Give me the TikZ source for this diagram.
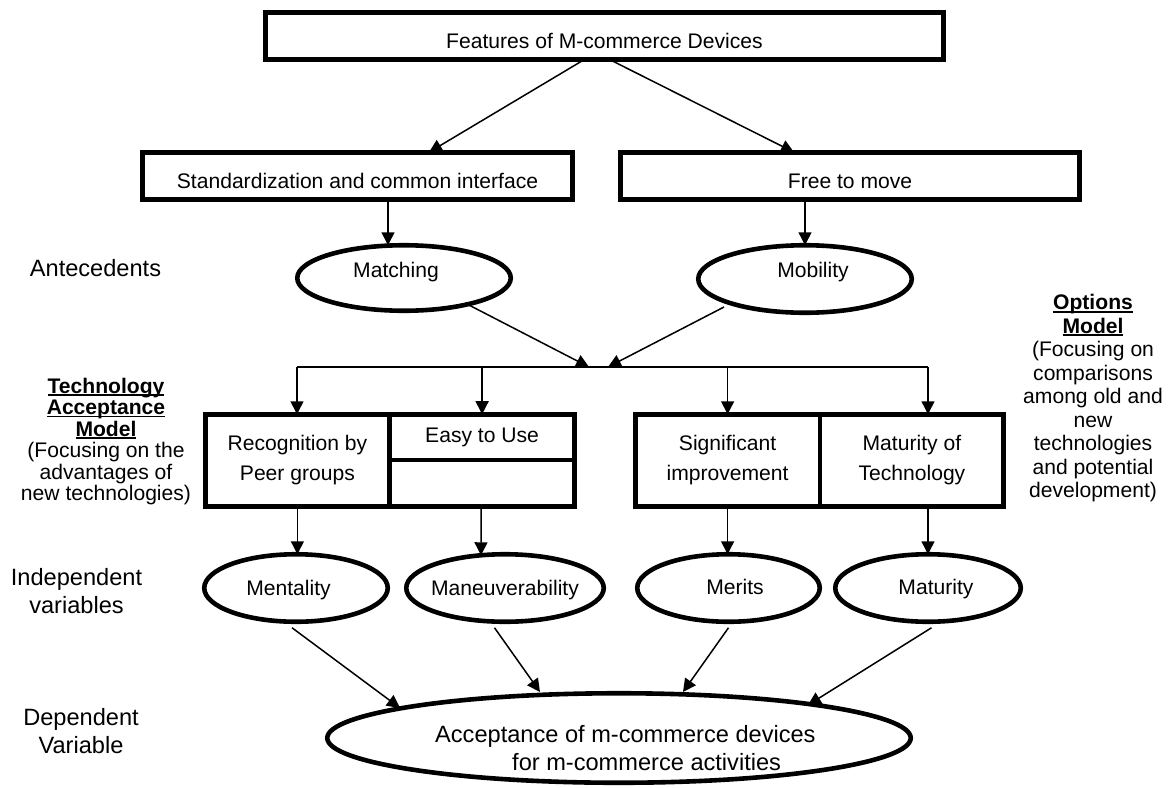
\documentclass[tikz,border=0pt]{standalone}
\usepackage{fontspec}
\setmainfont{Liberation Sans}
\usetikzlibrary{arrows.meta,shapes.geometric,calc}
\newcommand{\ctxt}[2][-7pt]{\raisebox{#1}[0pt][0pt]{\makebox[0pt]{#2}}}
\newcommand{\ulw}[1]{\setbox0\hbox{#1}\rlap{\rule[-2.6pt]{\wd0}{1.6pt}}\box0}
\begin{document}
\begin{tikzpicture}[x=1pt,y=-1pt,
  fnt/.style={font=\fontsize{21.1}{30}\selectfont},
  lbl/.style={font=\fontsize{23.6}{28}\selectfont},
  thickbox/.style={draw, line width=4.6pt, rectangle, inner sep=0pt, outer sep=0pt, fnt},
  ovalnode/.style={draw, line width=4.6pt, ellipse, inner sep=0pt, outer sep=0pt, fnt},
  conn/.style={line width=1.5pt, -{Triangle[length=13pt,width=13pt]}},
  hline/.style={line width=1.5pt},
]
\useasboundingbox (0,0) rectangle (1174,787);

% top row
\node[thickbox, minimum width=678.5pt, minimum height=47.5pt] (feat) at (604.5,36) {\ctxt[-12.3pt]{Features of M-commerce Devices}};
\node[thickbox, minimum width=430.5pt, minimum height=47.5pt] (std) at (357.5,176) {\ctxt[-12.3pt]{Standardization and common interface}};
\node[thickbox, minimum width=459.5pt, minimum height=47.5pt] (free) at (850,176) {\ctxt[-12.3pt]{Free to move}};

% antecedents
\node[ovalnode, minimum width=213.5pt, minimum height=65.5pt] (match) at (404,278) {\ctxt[1pt]{Matching\hspace*{16pt}}};
\node[ovalnode, minimum width=213.5pt, minimum height=67.5pt] (mob) at (805,279) {\ctxt[2pt]{\hspace*{16pt}Mobility}};

% model boxes
\node[thickbox, minimum width=184.25pt, minimum height=92.5pt, align=center] (rec) at (297.4,460.5) {Recognition by\\Peer groups};
\node[thickbox, minimum width=185.25pt, minimum height=45.75pt] (easy) at (482.1,437.1) {Easy to Use};
\node[thickbox, minimum width=185.25pt, minimum height=46.75pt] (easyb) at (482.1,483.4) {};
\node[thickbox, minimum width=184.75pt, minimum height=92.5pt, align=center] (sig) at (727.6,460.5) {Significant\\improvement};
\node[thickbox, minimum width=183.75pt, minimum height=92.5pt, align=center] (mtech) at (911.9,460.5) {Maturity of\\Technology};

% independent variables
\node[ovalnode, minimum width=183.5pt, minimum height=67.5pt] (ment) at (296,588) {\ctxt[-7pt]{Mentality\hspace*{15pt}}};
\node[ovalnode, minimum width=197.5pt, minimum height=67.5pt] (mane) at (505,588) {\ctxt[-7pt]{Maneuverability}};
\node[ovalnode, minimum width=182.5pt, minimum height=67.5pt] (mer) at (728.5,588) {\ctxt[-6pt]{\hspace*{13pt}Merits}};
\node[ovalnode, minimum width=185.5pt, minimum height=67.5pt] (mat) at (928,588) {\ctxt[-6.5pt]{\hspace*{16pt}Maturity}};

% dependent variable
\node[ovalnode, minimum width=583.5pt, minimum height=89.5pt] (acc) at (619,738) {};
\node[lbl, align=left, anchor=north west, inner sep=0pt] (acctext) at ($(acc.center)+(-184,-13.2)$) {Acceptance of m-commerce devices\\\hspace*{77pt}for m-commerce activities};

% side labels
\node[lbl, anchor=base, inner sep=0pt] (antec) at (95.5,276.7) {Antecedents};
\node[lbl, align=center, anchor=north, inner sep=0pt] (indep) at (76.5,568) {Independent\\variables};
\node[lbl, align=center, anchor=north, inner sep=0pt] (dep) at (81,708) {Dependent\\Variable};
\node[align=center, anchor=north, inner sep=0pt, font={\fontsize{21.1}{21.5}\selectfont\lineskiplimit=-50pt}] (tam) at (106,377.6)
  {\ulw{\textbf{Technology}}\\\ulw{\textbf{Acceptance}}\\\ulw{\textbf{Model}}\\(Focusing on the\\advantages of\\new technologies)};
\node[align=center, anchor=north, inner sep=0pt, font={\fontsize{21.1}{23.5}\selectfont\lineskiplimit=-50pt}] (opt) at (1093,294.5)
  {\ulw{\textbf{Options}}\\\ulw{\textbf{Model}}\\(Focusing on\\comparisons\\among old and\\new\\technologies\\and potential\\development)};

% connectors
\draw[conn] ($(feat.south)+(-20.5,0)$) -- ($(std.north)+(71.5,0)$);
\draw[conn] ($(feat.south)+(5.5,0)$) -- ($(free.north)+(-56,0)$);
\draw[conn] ($(std.south)+(30.5,0)$) -- ($(match.north)+(-16,0)$);
\draw[conn] ($(free.south)+(-45,0)$) -- (mob.north);

\coordinate (jl) at (297,367);
\coordinate (jr) at (928,367);
\coordinate (jm) at (589,367);
\coordinate (jn) at (608,367);
\draw[conn] ($(match.center)+(61,25)$) -- (jm);
\draw[conn] ($(mob.center)+(-81,28)$) -- (jn);
\draw[hline] (jl) -- (jr);
\draw[conn] (jl) -- (jl |- rec.north);
\draw[conn] (jl -| easy.north) -- (easy.north);
\draw[conn] (jl -| sig.north) -- (sig.north);
\draw[conn] (jr) -- (jr |- mtech.north);

\draw[conn] (rec.south) -- (rec.south |- ment.north);
\draw[conn] ($(easyb.south)+(-1,0)$) -- ($(mane.north)+(-24,1)$);
\draw[conn] (sig.south) -- (sig.south |- mer.north);
\draw[conn] (jr |- mtech.south) -- (jr |- mat.north);

\coordinate (t1) at ($(acc.center)+(-219,-30)$);
\coordinate (t2) at ($(acc.center)+(-79,-46)$);
\coordinate (t3) at ($(acc.center)+(64,-46)$);
\coordinate (t4) at ($(acc.center)+(189,-33)$);
\draw[conn] ($(ment.south)+(-4,6)$) -- (t1);
\draw[conn] ($(mane.south)+(-10.5,6)$) -- (t2);
\draw[conn] ($(mer.south)+(0,6)$) -- (t3);
\draw[conn] ($(mat.south)+(3.5,6)$) -- (t4);
\end{tikzpicture}
\end{document}
